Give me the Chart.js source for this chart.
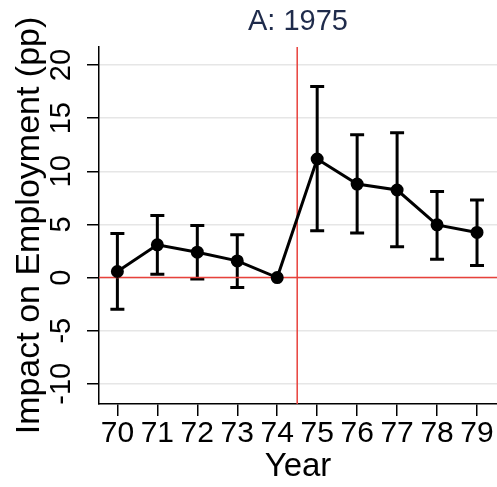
<!DOCTYPE html>
<html>
<head>
<meta charset="utf-8">
<script src="https://cdn.jsdelivr.net/npm/chart.js@4"></script>
<style>
  html, body { margin: 0; padding: 0; background: #fff; }
  #wrap { width: 497px; height: 487px; }
</style>
</head>
<body>
<div id="wrap"><canvas id="grafico" width="497" height="487"></canvas></div>
<script>
// dados
const anos = [70, 71, 72, 73, 74, 75, 76, 77, 78, 79];
const efeito = [0.57, 3.08, 2.39, 1.57, 0, 11.16, 8.8, 8.24, 4.96, 4.25];
const icInferior = [-2.99, 0.31, -0.13, -0.94, null, 4.4, 4.2, 2.89, 1.73, 1.13];
const icSuperior = [4.15, 5.85, 4.9, 4.02, null, 17.98, 13.45, 13.64, 8.11, 7.29];
const ticksY = [-10, -5, 0, 5, 10, 15, 20];
const anoEvento = 74.5;
const titulo = 'A: 1975';

const limX = [69.54, 79.5];
const limY = [-11.9, 21.7];

const fonte = '"Liberation Sans", Arial, sans-serif';
const vermelho = '#e8413b';

// barras de erro, titulo e rótulos do eixo Y
const extras = {
    id: 'extras',
    beforeDatasetsDraw(chart) {
        const { ctx, scales: { x, y } } = chart;
        ctx.save();
        ctx.strokeStyle = '#000';
        ctx.lineWidth = 3;
        anos.forEach((ano, i) => {
            if (icInferior[i] === null) return;
            const px = x.getPixelForValue(ano);
            const y1 = y.getPixelForValue(icInferior[i]);
            const y2 = y.getPixelForValue(icSuperior[i]);
            ctx.beginPath();
            ctx.moveTo(px, y1); ctx.lineTo(px, y2);
            ctx.moveTo(px - 7, y1); ctx.lineTo(px + 7, y1);
            ctx.moveTo(px - 7, y2); ctx.lineTo(px + 7, y2);
            ctx.stroke();
        });
        ctx.restore();
    },
    afterDraw(chart) {
        const { ctx, chartArea, scales: { y } } = chart;
        ctx.save();
        // rótulos verticais do eixo Y
        ctx.fillStyle = '#000';
        ctx.font = '29px ' + fonte;
        ctx.textAlign = 'center';
        ctx.textBaseline = 'middle';
        ticksY.forEach(v => {
            ctx.save();
            ctx.translate(62, y.getPixelForValue(v));
            ctx.rotate(-Math.PI / 2);
            ctx.fillText(String(v), 0, 0);
            ctx.restore();
        });
        // titulo
        ctx.fillStyle = '#1f2b4b';
        ctx.font = '29px ' + fonte;
        ctx.fillText(titulo, (chartArea.left + chartArea.right) / 2, 22);
        ctx.restore();
    }
};

const ctx = document.getElementById('grafico').getContext('2d');

const grafico = new Chart(ctx, {
    type: 'line',
    data: {
        datasets: [
            {
                // série principal
                data: anos.map((a, i) => ({ x: a, y: efeito[i] })),
                borderColor: '#000',
                backgroundColor: '#000',
                borderWidth: 3,
                pointRadius: 5,
                pointHoverRadius: 5,
                tension: 0,
                order: 0
            },
            {
                // linha zero
                data: [{ x: limX[0], y: 0 }, { x: limX[1], y: 0 }],
                borderColor: vermelho,
                borderWidth: 1.5,
                pointRadius: 0,
                order: 2
            },
            {
                // linha do evento
                data: [{ x: anoEvento, y: limY[0] }, { x: anoEvento, y: limY[1] }],
                borderColor: vermelho,
                borderWidth: 1.5,
                pointRadius: 0,
                order: 1
            }
        ]
    },
    options: {
        responsive: false,
        animation: false,
        events: [],
        layout: { autoPadding: false, padding: { top: 47, right: 0, left: 0, bottom: 0 } },
        plugins: {
            legend: { display: false },
            tooltip: { enabled: false }
        },
        scales: {
            x: {
                type: 'linear',
                min: limX[0],
                max: limX[1],
                afterBuildTicks: s => { s.ticks = anos.map(v => ({ value: v })); },
                afterFit: s => { s.height = 83; s.paddingLeft = 0; s.paddingRight = 0; },
                grid: { drawOnChartArea: false, drawTicks: true, tickLength: 12, color: '#000', lineWidth: 1.5 },
                border: { display: true, color: '#000', width: 1.5 },
                ticks: {
                    color: '#000',
                    font: { family: fonte, size: 30 },
                    padding: 0,
                    maxRotation: 0,
                    autoSkip: false,
                    callback: v => String(v)
                },
                title: {
                    display: true,
                    text: 'Year',
                    color: '#000',
                    font: { family: fonte, size: 33 },
                    padding: { top: 0, bottom: 0 }
                }
            },
            y: {
                min: limY[0],
                max: limY[1],
                afterBuildTicks: s => { s.ticks = ticksY.map(v => ({ value: v })); },
                afterFit: s => { s.width = 99; },
                grid: { color: '#e6e6e6', lineWidth: 1.5, tickColor: '#000', drawTicks: true, tickLength: 12 },
                border: { display: true, color: '#000', width: 1.5 },
                ticks: { display: false },
                title: {
                    display: true,
                    text: 'Impact on Employment (pp)',
                    color: '#000',
                    font: { family: fonte, size: 34 },
                    padding: { top: 9, bottom: 0 }
                }
            }
        }
    },
    plugins: [extras]
});
</script>
</body>
</html>
